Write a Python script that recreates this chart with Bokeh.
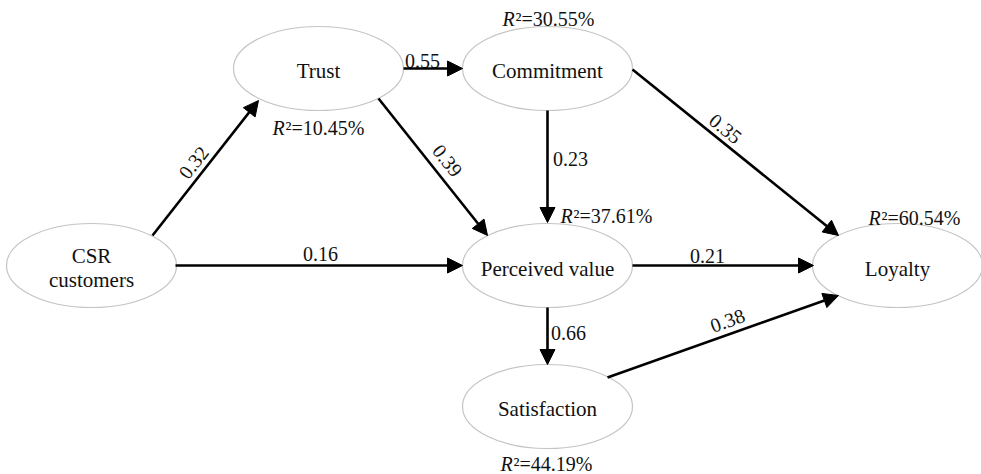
from bokeh.plotting import figure
from bokeh.models import Range1d, Arrow, NormalHead, ColumnDataSource
from bokeh.core.properties import value
from bokeh.embed import file_html
from bokeh.resources import INLINE
import math

# Nodes (diagram pixel coordinates)
node_names = ["CSR\ncustomers", "Trust", "Commitment", "Perceived value", "Loyalty", "Satisfaction"]
node_x = [91, 318, 547, 547, 897, 547]
node_y = [265, 68, 68, 265, 265, 406]
node_label_y = [267, 70, 70, 268, 268, 408]

# R-squared labels
r2_values = ["10.45%", "30.55%", "37.61%", "60.54%", "44.19%"]
r2_x = [272, 502, 560, 868, 500]
r2_y = [127, 18, 215, 217, 463]

# Path coefficients and edges
coef = ["0.32", "0.55", "0.39", "0.23", "0.35", "0.16", "0.21", "0.66", "0.38"]
edge_x0 = [152, 403, 378, 547, 632, 175, 632, 547, 607]
edge_y0 = [235, 68, 98, 110, 69, 265, 265, 307, 377]
edge_x1 = [258, 462, 487, 547, 838, 462, 813, 547, 838]
edge_y1 = [100, 68, 235, 222, 235, 265, 265, 364, 295]
coef_x = [193, 422, 447, 570, 725, 320, 707, 568, 727]
coef_y = [162, 60, 160, 158, 128, 253, 255, 332, 320]
coef_rotated = [True, False, True, False, True, False, False, False, True]

W, H = 981, 474
p = figure(width=W, height=H, output_backend="svg", toolbar_location=None,
           x_range=Range1d(0, W), y_range=Range1d(H, 0),
           min_border=0, outline_line_color=None)
p.axis.visible = False
p.grid.visible = False

FONT = value("'Liberation Serif', 'Times New Roman', serif")

# Ellipses
p.ellipse(x=node_x, y=node_y, width=170, height=84, fill_color="white",
          line_color="#c4c4c4", line_width=1.2)

# Arrows
for x0, y0, x1, y1 in zip(edge_x0, edge_y0, edge_x1, edge_y1):
    p.add_layout(Arrow(end=NormalHead(size=15, fill_color="black", line_color="black", line_width=1),
                       x_start=x0, y_start=y0, x_end=x1, y_end=y1,
                       line_color="black", line_width=2.6))

# Node labels
lx, ly, lt = [], [], []
for name, x, y in zip(node_names, node_x, node_label_y):
    parts = name.split("\n")
    if len(parts) == 2:
        lx += [x, x]; ly += [y - 12, y + 12]; lt += parts
    else:
        lx.append(x); ly.append(y); lt.append(name)
p.text(x=lx, y=ly, text=lt, text_font=FONT, text_font_size="21px",
       text_align="center", text_baseline="middle", text_color="#111111")

# Coefficient labels with rotation along arrow
angles = []
for i in range(len(coef)):
    if coef_rotated[i]:
        dx = edge_x1[i] - edge_x0[i]
        dy = edge_y1[i] - edge_y0[i]
        angles.append(math.atan2(-dy, dx))
    else:
        angles.append(0.0)
src = ColumnDataSource(dict(x=coef_x, y=coef_y, t=coef, a=angles))
p.text(x="x", y="y", text="t", angle="a", source=src, text_font=FONT,
       text_font_size="20px", text_align="center", text_baseline="middle",
       text_color="#111111")

# R^2 labels: italic R + superscript rest
p.text(x=r2_x, y=r2_y, text=["R"] * len(r2_x), text_font=FONT,
       text_font_style="italic", text_font_size="20px", text_align="left",
       text_baseline="middle", text_color="#111111")
p.text(x=[x + 13 for x in r2_x], y=r2_y, text=["\u00b2=" + v for v in r2_values],
       text_font=FONT, text_font_size="20px", text_align="left",
       text_baseline="middle", text_color="#111111")

open("out.html", "w").write(file_html(p, INLINE))
